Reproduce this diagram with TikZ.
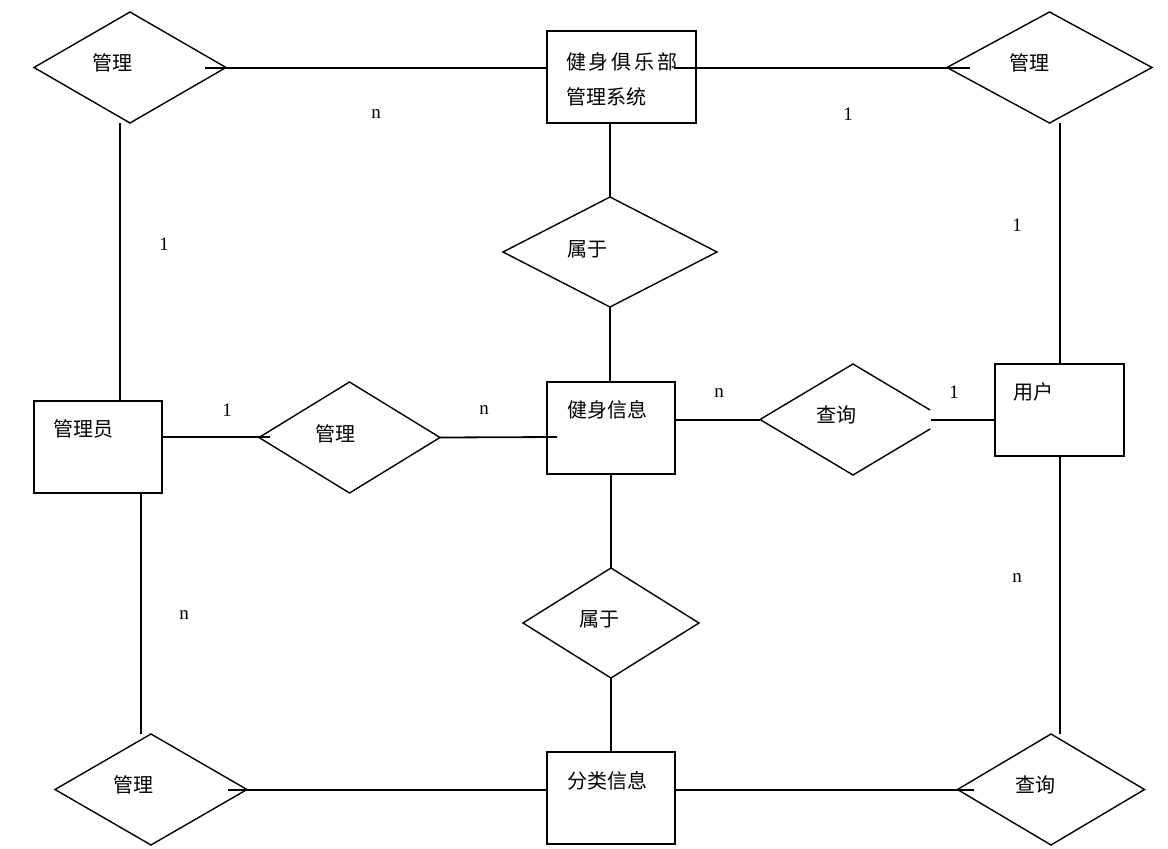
\documentclass[tikz,border=0pt]{standalone}
\usepackage{fontspec}
\setmainfont{Liberation Serif}
\newfontfamily\cjk{Noto Sans CJK SC}
\newfontfamily\cjkwide[LetterSpace=14]{Noto Sans CJK SC}
\usetikzlibrary{shapes.geometric,calc}
\tikzset{
ent/.style={rectangle, draw, line width=1.8pt, inner sep=0, outer sep=0},
rel/.style={diamond, draw, line width=1.4pt, inner sep=0, outer sep=0},
lbl/.style={inner sep=0, font=\cjk\fontsize{20}{23}\selectfont},
card/.style={inner sep=0, font=\fontsize{19}{21}\selectfont},
conn/.style={line width=1.8pt}
}
\begin{document}
\begin{tikzpicture}[x=1pt,y=-1pt]
\useasboundingbox (0,0) rectangle (1168,849);
\node[ent, minimum width=149pt, minimum height=92pt] (sys) at (621.5,77){};
\node[ent, minimum width=128pt, minimum height=92pt] (admin) at (98,447){};
\node[ent, minimum width=128pt, minimum height=92pt] (info) at (611,428){};
\node[ent, minimum width=129pt, minimum height=92pt] (user) at (1059.5,410){};
\node[ent, minimum width=128pt, minimum height=92pt] (cat) at (611,798){};
\node[rel, minimum width=192pt, minimum height=111pt] (dtl) at (130,67.5){};
\node[rel, minimum width=205pt, minimum height=111pt] (dtr) at (1049.5,67.5){};
\node[rel, minimum width=214pt, minimum height=110pt] (dbel1) at (610,252){};
\node[rel, minimum width=181pt, minimum height=111pt] (dmid) at (349.5,437.5){};
\node[diamond, inner sep=0, outer sep=0, minimum width=186pt, minimum height=111pt] (dq) at (853,419.5){};
\node[rel, minimum width=176pt, minimum height=110pt] (dbel2) at (611,623){};
\node[rel, minimum width=192pt, minimum height=111pt] (dbl) at (151,789.5){};
\node[rel, minimum width=187pt, minimum height=111pt] (dbr) at (1051,789.5){};
\draw[line width=1.4pt] ($(dq.north)!0.83!(dq.east)$) -- (dq.north) -- (dq.west) -- (dq.south) -- ($(dq.south)!0.83!(dq.east)$);

\node[lbl] (tdtl) at (112,63){管理};
\node[lbl, anchor=west] (tsys1) at (566,62){\cjkwide 健身俱乐部};
\node[lbl, anchor=west] (tsys2) at (566,97){管理系统};
\node[lbl] (tdtr) at (1029,63){管理};
\node[lbl] (tdbel1) at (587,249){属于};
\node[lbl] (tadmin) at (83,429){管理员};
\node[lbl] (tdmid) at (335,434){管理};
\node[lbl] (tinfo) at (607,410){健身信息};
\node[lbl] (tdq) at (836,415){查询};
\node[lbl] (tuser) at (1033,392){用户};
\node[lbl] (tdbel2) at (599,619){属于};
\node[lbl] (tcat) at (607,781){分类信息};
\node[lbl] (tdbl) at (133,785){管理};
\node[lbl] (tdbr) at (1035,785){查询};

\node[card] (n1) at (376,114){n};
\node[card] (n2) at (848,114){1};
\node[card] (n3) at (164,244){1};
\node[card] (n4) at (1017,225){1};
\node[card] (n5) at (227,410){1};
\node[card] (n6) at (484,410){n};
\node[card] (n7) at (719,393){n};
\node[card] (n8) at (954,392){1};
\node[card] (n9) at (184,615){n};
\node[card] (n10) at (1017,578){n};

\coordinate (c1) at (205,68);
\coordinate (c2) at (674,68);
\coordinate (c3) at (970,68);
\coordinate (c4) at (120,123);
\coordinate (c5) at (1060,123);
\coordinate (c6) at (270,437);
\coordinate (c7) at (557,437);
\coordinate (c8) at (931,420);
\coordinate (c9) at (141,734);
\coordinate (c10) at (1060,734);
\coordinate (c11) at (228,790);
\coordinate (c12) at (974,790);
\draw[conn] (c1) -- (c1 -| sys.west);
\draw[conn] (c2) -- (c3);
\draw[conn] (c4) -- (c4 |- admin.north);
\draw[conn] (dbel1.north) -- (dbel1.north |- sys.south);
\draw[conn] (dbel1.south) -- (dbel1.south |- info.north);
\draw[conn] (c5) -- (c5 |- user.north);
\draw[conn] (c6 -| admin.east) -- (c6);
\draw[conn] (dmid.east) -- (c7);
\draw[conn] (c8 -| info.east) -- (dq.west |- c8);
\draw[conn] (c8) -- (c8 -| user.west);
\draw[conn] (dbel2.north) -- (dbel2.north |- info.south);
\draw[conn] (dbel2.south) -- (dbel2.south |- cat.north);
\draw[conn] (c9) -- (c9 |- admin.south);
\draw[conn] (c10) -- (c10 |- user.south);
\draw[conn] (c11) -- (c11 -| cat.west);
\draw[conn] (c12 -| cat.east) -- (c12);

\end{tikzpicture}
\end{document}
